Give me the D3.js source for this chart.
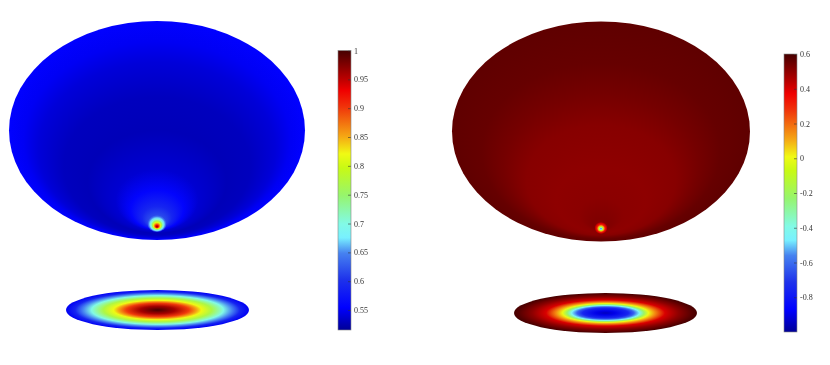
<!DOCTYPE html>
<html><head><meta charset="utf-8">
<script src="https://cdn.jsdelivr.net/npm/d3@7"></script>
<style>html,body{margin:0;padding:0;background:#fff}svg{display:block}
.tick text{font-family:"Liberation Serif",serif;font-size:8px;fill:#333}</style></head>
<body><svg id="c" width="830" height="365"></svg>
<script>
// colormap
const jetPos=[0,0.08,0.18,0.275,0.33,0.38,0.48,0.58,0.63,0.69,0.80,0.857,0.896,1];
const jetCol=["#000096","#0000ff","#1e32eb","#4682f0","#78f0ff","#82fae6","#96f56e","#c8fa14","#f0fa14","#f5aa14","#f0320a","#f00000","#be0000","#460000"];
// left panel values
const leftDomain=[0.5154,1];
const leftTicks=[1,0.95,0.9,0.85,0.8,0.75,0.7,0.65,0.6,0.55];
const leftTickLabels=["1","0.95","0.9","0.85","0.8","0.75","0.7","0.65","0.6","0.55"];
const leftShellT=[0,0.06,0.1,0.18,0.28,0.47,0.63,0.8,0.9,1];
const leftShellV=[0.63,0.615,0.59,0.558,0.537,0.528,0.53,0.54,0.55,0.555];
const leftBlobT=[0,0.14,0.28,0.38,0.5,0.62,0.75,0.88,1];
const leftBlobV=[0.98,0.93,0.86,0.81,0.76,0.71,0.67,0.64,0.615];
const leftDiscT=[0,0.19,0.34,0.43,0.48,0.59,0.72,0.81,0.9,1];
const leftDiscV=[1,0.96,0.9,0.85,0.82,0.77,0.70,0.65,0.59,0.55];
// right panel values
const rightDomain=[-1,0.6];
const rightTicks=[0.6,0.4,0.2,0,-0.2,-0.4,-0.6,-0.8];
const rightTickLabels=["0.6","0.4","0.2","0","-0.2","-0.4","-0.6","-0.8"];
const rightShellT=[0,0.05,0.15,0.3,0.5,0.65,0.8,1];
const rightShellV=[0.50,0.52,0.505,0.50,0.51,0.535,0.555,0.565];
const rightBlobT=[0,0.15,0.3,0.45,0.6,0.8,1];
const rightBlobV=[-0.7,-0.45,-0.1,0.1,0.3,0.4,0.5];
const rightDiscT=[0,0.1,0.25,0.31,0.37,0.42,0.47,0.54,0.65,0.8,0.95,1];
const rightDiscV=[-0.95,-0.9,-0.75,-0.62,-0.44,-0.22,0,0.15,0.4,0.5,0.58,0.6];

const svg=d3.select("#c"),defs=svg.append("defs");
function jet(dom){
  const pos=d3.scaleLinear().domain(dom).range([0,1]);
  const col=d3.scaleLinear().domain(jetPos).range(jetCol).clamp(true);
  return v=>col(pos(v));
}
function grad(id,T,V,color,fy){
  const g=defs.append("radialGradient").attr("id",id)
    .attr("cx",0.5).attr("cy",0.5).attr("r",0.5).attr("fx",0.5).attr("fy",fy===undefined?0.5:fy);
  g.selectAll("stop").data(T).join("stop")
    .attr("offset",d=>d).attr("stop-color",(d,i)=>color(V[i]));
}
function panel(p){
  const color=jet(p.domain);
  grad(p.id+"s",p.shellT,p.shellV,color,(p.pole[1]-(p.shell[1]-p.shell[3]))/(2*p.shell[3]));
  grad(p.id+"b",p.blobT,p.blobV,color,p.blobFy);
  grad(p.id+"d",p.discT,p.discV,color);
  const el=(b,f)=>svg.append("ellipse").attr("cx",b[0]).attr("cy",b[1]).attr("rx",b[2]).attr("ry",b[3]).attr("fill",f);
  el(p.shell,`url(#${p.id}s)`);
  el(p.blob,`url(#${p.id}b)`);
  el(p.disc,`url(#${p.id}d)`);
  // colour bar
  const y=d3.scaleLinear().domain(p.domain).range(p.bar.y);
  const lg=defs.append("linearGradient").attr("id",p.id+"c").attr("x1",0).attr("x2",0).attr("y1",1).attr("y2",0);
  lg.selectAll("stop").data(jetPos).join("stop").attr("offset",d=>d).attr("stop-color",(d,i)=>jetCol[i]);
  svg.append("rect").attr("x",p.bar.x).attr("y",p.bar.y[1]).attr("width",p.bar.w)
    .attr("height",p.bar.y[0]-p.bar.y[1]).attr("fill",`url(#${p.id}c)`);
  const ax=d3.axisRight(y).tickValues(p.ticks).tickFormat((d,i)=>p.labels[i]).tickSizeInner(-3).tickSizeOuter(0).tickPadding(3);
  const g=svg.append("g").attr("transform",`translate(${p.bar.x+p.bar.w},0)`).call(ax);
  g.select(".domain").remove();
  g.selectAll(".tick line").attr("stroke","#333").attr("stroke-width",0.6);
  g.selectAll(".tick text").style("filter","grayscale(1)");
  svg.append("rect").attr("x",p.bar.x).attr("y",p.bar.y[1]).attr("width",p.bar.w)
    .attr("height",p.bar.y[0]-p.bar.y[1]).attr("fill","none").attr("stroke","#888").attr("stroke-width",0.6);
}
panel({id:"l",domain:leftDomain,ticks:leftTicks,labels:leftTickLabels,
  shellT:leftShellT,shellV:leftShellV,blobT:leftBlobT,blobV:leftBlobV,discT:leftDiscT,discV:leftDiscV,
  shell:[157,130.5,148,109.5],pole:[157,227],blob:[157,223.5,9.5,8.5],blobFy:0.7,disc:[157.5,310,91.5,20],
  bar:{x:338,w:13,y:[330,50.5]}});
panel({id:"r",domain:rightDomain,ticks:rightTicks,labels:rightTickLabels,
  shellT:rightShellT,shellV:rightShellV,blobT:rightBlobT,blobV:rightBlobV,discT:rightDiscT,discV:rightDiscV,
  shell:[601,131.5,149,110],pole:[601,229],blob:[601,228,6.5,6],blobFy:0.58,disc:[605.5,313,91.5,20],
  bar:{x:784,w:13,y:[332,54]}});
</script></body></html>
